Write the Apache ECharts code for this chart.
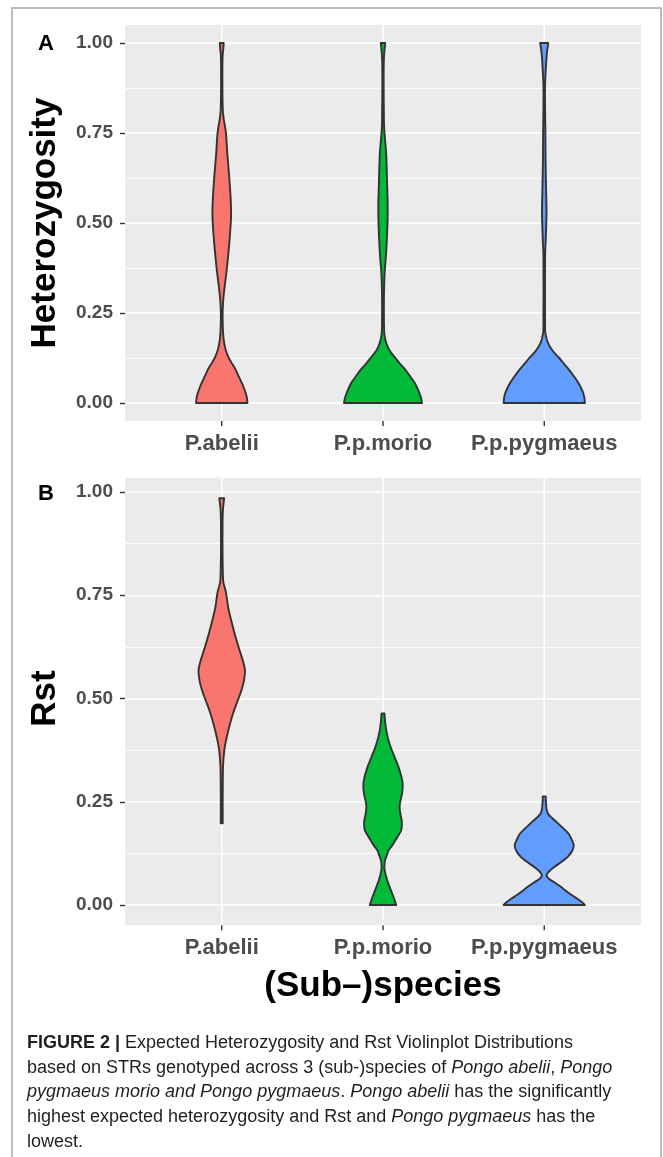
<!DOCTYPE html>
<html>
<head>
<meta charset="utf-8">
<script src="https://cdn.jsdelivr.net/npm/echarts@6/dist/echarts.min.js"></script>
<style>
html,body{margin:0;padding:0;background:#fff;}
#chart{width:663px;height:1157px;}
</style>
</head>
<body>
<div id="chart"></div>
<script>
// ---------------- data ----------------
const categories = ['P.abelii', 'P.p.morio', 'P.p.pygmaeus'];
const yTickLabels = ['0.00', '0.25', '0.50', '0.75', '1.00'];

// violin profiles: [value, half-width as a fraction of one category step]
const hetAbelii = [[0,0.159],[0.014,0.156],[0.027,0.149],[0.041,0.138],[0.055,0.125],[0.073,0.106],[0.092,0.087],[0.108,0.066],[0.125,0.044],[0.145,0.026],[0.167,0.015],[0.19,0.009],[0.22,0.006],[0.26,0.006],[0.30,0.012],[0.375,0.032],[0.44,0.046],[0.50,0.056],[0.53,0.058],[0.57,0.055],[0.625,0.047],[0.69,0.035],[0.75,0.026],[0.79,0.012],[0.82,0.006],[0.9,0.004],[0.96,0.005],[0.985,0.010],[1.0,0.012]];
const hetMorio = [[0,0.242],[0.014,0.236],[0.027,0.226],[0.041,0.213],[0.055,0.198],[0.073,0.170],[0.092,0.139],[0.108,0.107],[0.125,0.077],[0.145,0.042],[0.167,0.020],[0.19,0.009],[0.22,0.006],[0.30,0.006],[0.36,0.010],[0.42,0.020],[0.5,0.028],[0.55,0.029],[0.6,0.026],[0.69,0.020],[0.74,0.011],[0.78,0.006],[0.9,0.004],[0.96,0.006],[1.0,0.014]];
const hetPygmaeus = [[0,0.252],[0.014,0.249],[0.027,0.242],[0.041,0.229],[0.055,0.213],[0.073,0.186],[0.092,0.154],[0.108,0.124],[0.125,0.093],[0.145,0.052],[0.167,0.023],[0.19,0.009],[0.22,0.005],[0.40,0.005],[0.45,0.009],[0.53,0.014],[0.60,0.011],[0.68,0.008],[0.75,0.007],[0.82,0.005],[0.88,0.005],[0.93,0.010],[0.97,0.016],[1.0,0.025]];

const rstAbelii = [[0.198,0.006],[0.26,0.006],[0.336,0.008],[0.378,0.017],[0.41,0.033],[0.46,0.067],[0.50,0.104],[0.525,0.126],[0.544,0.138],[0.568,0.144],[0.59,0.132],[0.61,0.116],[0.63,0.100],[0.66,0.078],[0.69,0.058],[0.72,0.040],[0.755,0.027],[0.775,0.014],[0.79,0.008],[0.85,0.005],[0.93,0.005],[0.96,0.008],[0.985,0.015]];
const rstMorio = [[0,0.082],[0.012,0.072],[0.036,0.049],[0.06,0.026],[0.085,0.010],[0.1,0.010],[0.109,0.013],[0.125,0.028],[0.133,0.036],[0.145,0.058],[0.157,0.077],[0.17,0.098],[0.181,0.113],[0.195,0.117],[0.205,0.116],[0.22,0.108],[0.237,0.103],[0.25,0.107],[0.27,0.118],[0.285,0.122],[0.302,0.119],[0.33,0.100],[0.358,0.072],[0.385,0.045],[0.415,0.024],[0.44,0.014],[0.464,0.009]];
const rstPygmaeus = [[0,0.252],[0.007,0.233],[0.015,0.205],[0.024,0.170],[0.034,0.135],[0.044,0.103],[0.055,0.062],[0.063,0.030],[0.07,0.015],[0.077,0.020],[0.085,0.040],[0.092,0.062],[0.104,0.105],[0.116,0.144],[0.13,0.172],[0.145,0.183],[0.16,0.168],[0.173,0.150],[0.185,0.120],[0.197,0.087],[0.21,0.050],[0.22,0.025],[0.229,0.016],[0.245,0.011],[0.263,0.009]];

const hetProfiles = [hetAbelii, hetMorio, hetPygmaeus];
const rstProfiles = [rstAbelii, rstMorio, rstPygmaeus];

// ---------------- style ----------------
const fillColors = ['#F8766D', '#00BA38', '#619CFF'];
const FONT = "'Liberation Sans', Arial, Helvetica, sans-serif";
const panelBg = '#EBEBEB';
const tickColor = '#333333';

// ggplot-like expanded limits (5% of data range)
function limits(profiles) {
  let lo = Infinity, hi = -Infinity;
  profiles.forEach(p => p.forEach(d => { lo = Math.min(lo, d[0]); hi = Math.max(hi, d[0]); }));
  const r = hi - lo;
  return [lo - 0.05 * r, hi + 0.05 * r];
}
const limA = limits(hetProfiles);
const limB = limits(rstProfiles);

// layout
const gridA = { left: 125, right: 22, top: 43, height: 360 };
const gridB = { left: 125, right: 22, top: 492, height: 413 };

function catmull(pts, clampSide, cx) {
  let d = '';
  const n = pts.length;
  for (let i = 0; i < n - 1; i++) {
    const p0 = pts[Math.max(i - 1, 0)], p1 = pts[i], p2 = pts[i + 1], p3 = pts[Math.min(i + 2, n - 1)];
    let c1x = p1[0] + (p2[0] - p0[0]) / 6, c1y = p1[1] + (p2[1] - p0[1]) / 6;
    let c2x = p2[0] - (p3[0] - p1[0]) / 6, c2y = p2[1] - (p3[1] - p1[1]) / 6;
    if (clampSide < 0) { c1x = Math.min(c1x, cx - 0.3); c2x = Math.min(c2x, cx - 0.3); }
    else { c1x = Math.max(c1x, cx + 0.3); c2x = Math.max(c2x, cx + 0.3); }
    d += ' C' + c1x.toFixed(2) + ',' + c1y.toFixed(2) + ' ' + c2x.toFixed(2) + ',' + c2y.toFixed(2) + ' ' + p2[0].toFixed(2) + ',' + p2[1].toFixed(2);
  }
  return d;
}

function violinRender(profiles, lim) {
  return function (params, api) {
    const idx = api.value(1);
    const prof = profiles[idx];
    const xv = api.value(0);
    const cx = api.coord([xv, 0])[0];
    const unit = Math.abs(api.size([1, 0])[0]);
    const left = prof.map(p => [cx - p[1] * unit, api.coord([xv, p[0]])[1]]);
    const right = prof.map(p => [cx + p[1] * unit, api.coord([xv, p[0]])[1]]).reverse();
    const path = 'M' + left[0][0].toFixed(2) + ',' + left[0][1].toFixed(2) + catmull(left, -1, cx) +
      ' L' + right[0][0].toFixed(2) + ',' + right[0][1].toFixed(2) + catmull(right, 1, cx) + ' Z';
    const yTop = api.coord([xv, lim[1]])[1];
    const yBot = api.coord([xv, lim[0]])[1];
    return {
      type: 'group',
      children: [
        { type: 'line', shape: { x1: cx, y1: yTop, x2: cx, y2: yBot }, style: { stroke: '#ffffff', lineWidth: 1.6 } },
        { type: 'line', shape: { x1: cx, y1: yBot, x2: cx, y2: yBot + 5 }, style: { stroke: tickColor, lineWidth: 1.4 } },
        { type: 'path', shape: { pathData: path }, style: { fill: fillColors[idx], stroke: '#333333', lineWidth: 1.9, lineJoin: 'round' } }
      ]
    };
  };
}

function bgRender(lim) {
  return function (params, api) {
    const p1 = api.coord([0.4, lim[1]]);
    const p2 = api.coord([3.6, lim[0]]);
    return { type: 'rect', shape: { x: p1[0], y: p1[1], width: p2[0] - p1[0], height: p2[1] - p1[1] }, style: { fill: panelBg } };
  };
}

function xAxisFor(gridIndex, lim, grid, withName) {
  const ax = {
    type: 'value', gridIndex: gridIndex, min: 0.4, max: 3.6,
    offset: -lim[0] * grid.height,
    axisLine: { show: false },
    splitLine: { show: false },
    axisTick: { show: false },
    axisLabel: {
      customValues: [1, 2, 3], margin: 12,
      formatter: v => categories[Math.round(v) - 1] || '',
      fontFamily: FONT, fontWeight: 'bold', fontSize: 22, color: '#4D4D4D'
    }
  };
  if (withName) {
    ax.name = '(Sub\u2013)species';
    ax.nameLocation = 'middle';
    ax.nameGap = 44;
    ax.nameTextStyle = { fontFamily: FONT, fontWeight: 'bold', fontSize: 35, color: '#000' };
  }
  return ax;
}

function yAxisFor(gridIndex, name) {
  return {
    type: 'value', gridIndex: gridIndex, min: 0, max: 1, interval: 0.25,
    name: name, nameLocation: 'middle', nameGap: 62,
    nameTextStyle: { fontFamily: FONT, fontWeight: 'bold', fontSize: 35, color: '#000' },
    axisLine: { show: false },
    axisTick: { show: true, length: 5, lineStyle: { color: tickColor, width: 1.4 } },
    minorTick: { show: false, splitNumber: 2 },
    splitLine: { show: true, lineStyle: { color: '#ffffff', width: 1.6 } },
    minorSplitLine: { show: true, lineStyle: { color: '#ffffff', width: 0.8 } },
    axisLabel: {
      margin: 12,
      formatter: v => yTickLabels[Math.round(v * 4)],
      fontFamily: FONT, fontWeight: 'bold', fontSize: 19, color: '#4D4D4D'
    }
  };
}

const catData = categories.map((c, i) => [i + 1, i]);

const captionLines = [
  '{b|FIGURE 2 |}{n| Expected Heterozygosity and Rst Violinplot Distributions}',
  '{n|based on STRs genotyped across 3 (sub-)species of }{i|Pongo abelii}{n|, }{i|Pongo}',
  '{i|pygmaeus morio and Pongo pygmaeus}{n|. }{i|Pongo abelii}{n| has the significantly}',
  '{n|highest expected heterozygosity and Rst and }{i|Pongo pygmaeus}{n| has the}',
  '{n|lowest.}'
];
const capStyle = { fontFamily: FONT, fontSize: 18, fill: '#1f1f1f' };
const capRich = {
  n: Object.assign({}, capStyle),
  b: Object.assign({}, capStyle, { fontWeight: 'bold' }),
  i: Object.assign({}, capStyle, { fontStyle: 'italic' })
};

const graphics = [
  { type: 'rect', shape: { x: 12, y: 8, width: 649, height: 1180 }, style: { fill: 'none', stroke: '#a8a8a8', lineWidth: 1.5 }, silent: true },
  { type: 'text', x: 46, y: 44, style: { text: 'A', fontFamily: FONT, fontWeight: 'bold', fontSize: 22, fill: '#000', textAlign: 'center', textVerticalAlign: 'middle' } },
  { type: 'text', x: 46, y: 494, style: { text: 'B', fontFamily: FONT, fontWeight: 'bold', fontSize: 22, fill: '#000', textAlign: 'center', textVerticalAlign: 'middle' } }
];
captionLines.forEach((t, k) => {
  graphics.push({ type: 'text', x: 27, y: 1043 + k * 24.7, style: { text: t, rich: capRich, textVerticalAlign: 'middle', fontFamily: FONT, fontSize: 18, fill: '#1f1f1f' } });
});

const chart = echarts.init(document.getElementById('chart'), null, { renderer: 'canvas' });
chart.setOption({
  backgroundColor: '#ffffff',
  animation: false,
  grid: [
    { left: gridA.left, right: gridA.right, top: gridA.top, height: gridA.height, containLabel: false },
    { left: gridB.left, right: gridB.right, top: gridB.top, height: gridB.height, containLabel: false }
  ],
  xAxis: [xAxisFor(0, limA, gridA, false), xAxisFor(1, limB, gridB, true)],
  yAxis: [yAxisFor(0, 'Heterozygosity'), yAxisFor(1, 'Rst')],
  series: [
    { type: 'custom', name: 'bgA', xAxisIndex: 0, yAxisIndex: 0, z: -5, silent: true, data: [[1, 0]], renderItem: bgRender(limA) },
    { type: 'custom', name: 'bgB', xAxisIndex: 1, yAxisIndex: 1, z: -5, silent: true, data: [[1, 0]], renderItem: bgRender(limB) },
    { type: 'custom', name: 'Heterozygosity', xAxisIndex: 0, yAxisIndex: 0, data: catData, renderItem: violinRender(hetProfiles, limA), encode: { x: 0 } },
    { type: 'custom', name: 'Rst', xAxisIndex: 1, yAxisIndex: 1, data: catData, renderItem: violinRender(rstProfiles, limB), encode: { x: 0 } }
  ],
  graphic: graphics
});
</script>
</body>
</html>
